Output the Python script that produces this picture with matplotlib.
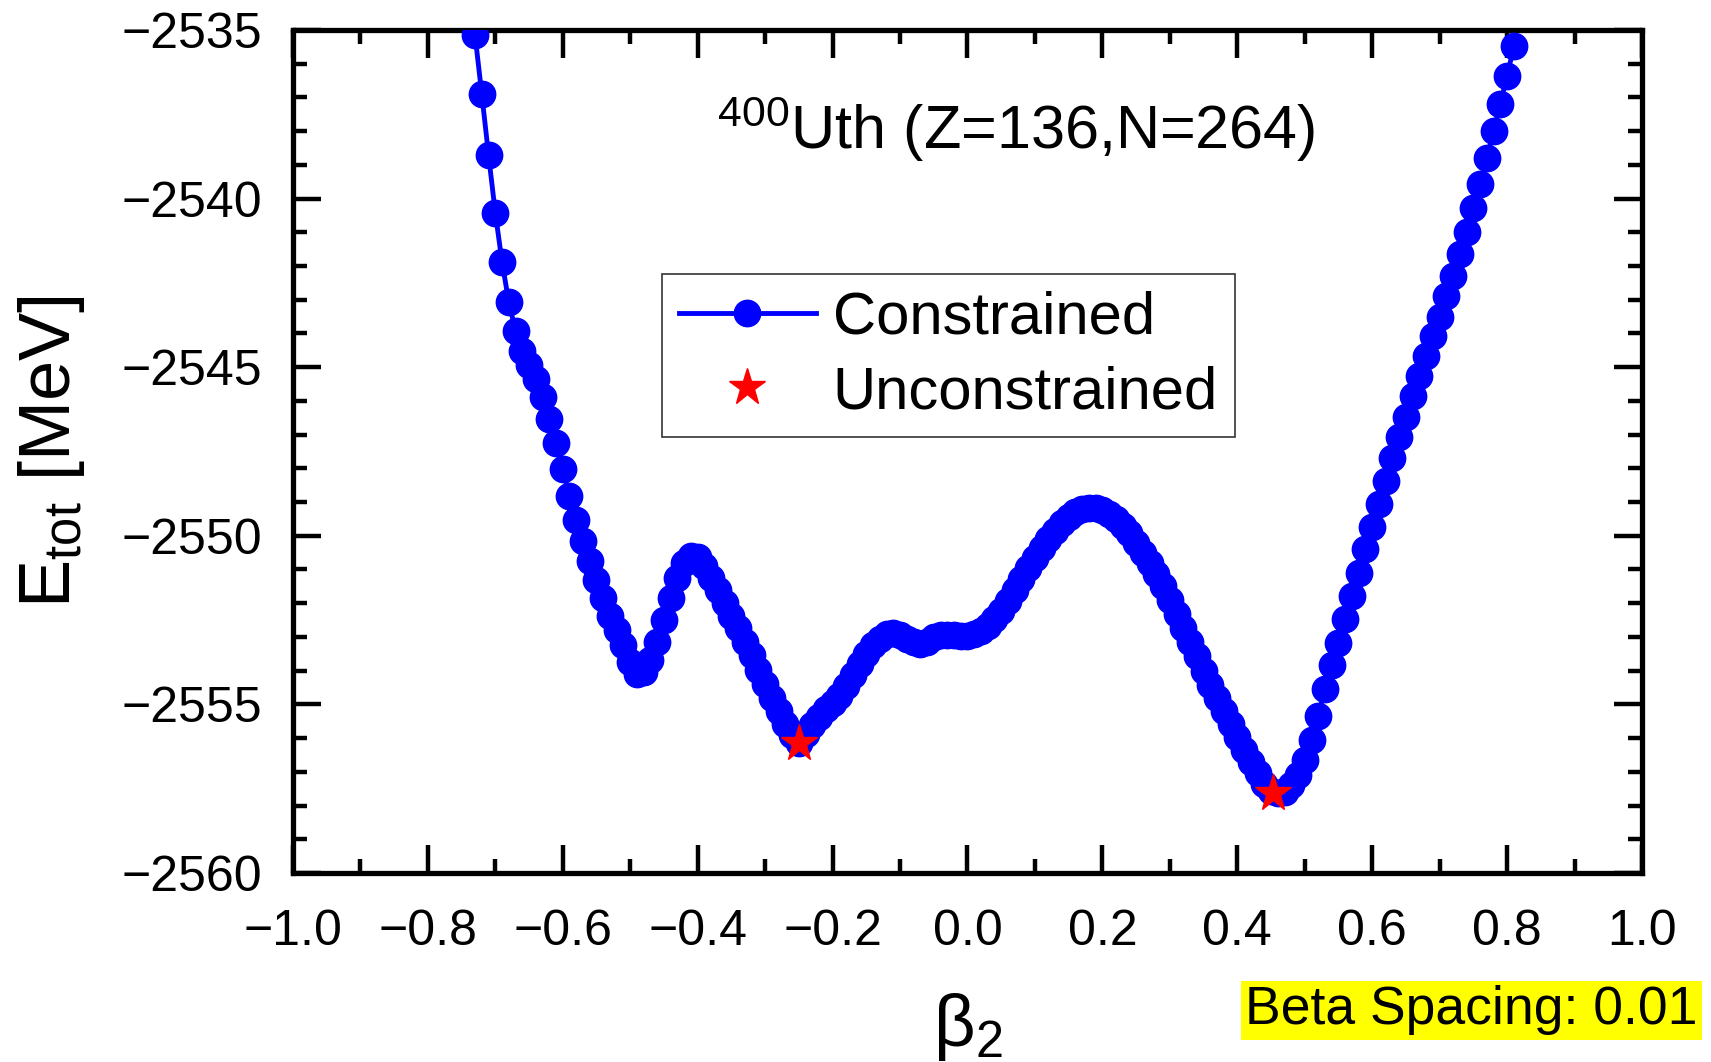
import numpy as np
import matplotlib
matplotlib.use("Agg")
import matplotlib.pyplot as plt
from matplotlib.ticker import MultipleLocator

plt.rcParams["font.family"] = ["Liberation Sans", "DejaVu Sans"]
plt.rcParams["mathtext.fontset"] = "custom"
plt.rcParams["mathtext.rm"] = "Liberation Sans"
plt.rcParams["mathtext.it"] = "Liberation Sans:italic"

# constrained scan, beta2 grid starts at -0.73 with the stated spacing
beta_start = -0.73
beta_step = 0.01
e_constrained = [
    -2535.16, -2536.91, -2538.71, -2540.42, -2541.88, -2543.07, -2543.92, -2544.51,
    -2544.95, -2545.34, -2545.88, -2546.54, -2547.26, -2548.02, -2548.81, -2549.52,
    -2550.15, -2550.74, -2551.31, -2551.85, -2552.37, -2552.78, -2553.24, -2553.75,
    -2554.10, -2554.05, -2553.68, -2553.14, -2552.50, -2551.85, -2551.26, -2550.82,
    -2550.60, -2550.62, -2550.90, -2551.25, -2551.62, -2552.00, -2552.38, -2552.75,
    -2553.15, -2553.55, -2553.98, -2554.40, -2554.80, -2555.20, -2555.58, -2555.92,
    -2556.15, -2555.88, -2555.62, -2555.38, -2555.15, -2554.95, -2554.75, -2554.45,
    -2554.12, -2553.80, -2553.50, -2553.25, -2553.05, -2552.92, -2552.88, -2552.95,
    -2553.05, -2553.15, -2553.22, -2553.15, -2553.00, -2552.93, -2552.93, -2552.95,
    -2552.97, -2552.97, -2552.92, -2552.83, -2552.68, -2552.48, -2552.22, -2551.92,
    -2551.60, -2551.27, -2550.95, -2550.65, -2550.37, -2550.10, -2549.85, -2549.62,
    -2549.43, -2549.29, -2549.21, -2549.18, -2549.19, -2549.25, -2549.36, -2549.50,
    -2549.70, -2549.93, -2550.20, -2550.50, -2550.80, -2551.13, -2551.50, -2551.90,
    -2552.32, -2552.74, -2553.16, -2553.58, -2554.00, -2554.42, -2554.82, -2555.20,
    -2555.58, -2555.96, -2556.35, -2556.72, -2557.05, -2557.35, -2557.58, -2557.64,
    -2557.59, -2557.39, -2557.09, -2556.65, -2556.06, -2555.34, -2554.55, -2553.83,
    -2553.17, -2552.48, -2551.79, -2551.11, -2550.40, -2549.73, -2549.06, -2548.37,
    -2547.70, -2547.06, -2546.47, -2545.87, -2545.26, -2544.67, -2544.07, -2543.50,
    -2542.89, -2542.30, -2541.65, -2540.98, -2540.29, -2539.58, -2538.81, -2538.01,
    -2537.19, -2536.36, -2535.49,
]
beta_constrained = np.round(beta_start + beta_step * np.arange(len(e_constrained)), 2)

# unconstrained minima
beta_free = [-0.25, 0.453]
e_free = [-2556.16, -2557.63]

fig = plt.figure(figsize=(17.11, 10.62), dpi=100)
ax = fig.add_axes([0.1712, 0.178, 0.7885, 0.7938])

ax.plot(beta_constrained, e_constrained, "-o", color="blue", lw=3.5, ms=19,
        label="Constrained", zorder=3)
ax.plot(beta_free, e_free, "*", color="red", ms=28, ls="none",
        label="Unconstrained", zorder=4)

ax.set_xlim(-1.0, 1.0)
ax.set_ylim(-2560, -2535)
ax.xaxis.set_major_locator(MultipleLocator(0.2))
ax.xaxis.set_minor_locator(MultipleLocator(0.1))
ax.yaxis.set_major_locator(MultipleLocator(5))
ax.yaxis.set_minor_locator(MultipleLocator(1))
ax.xaxis.set_major_formatter(plt.FuncFormatter(lambda v, p: f"{v:.1f}".replace("-", "\u2212")))

for s in ax.spines.values():
    s.set_linewidth(3.8)
ax.tick_params(which="both", direction="in", top=True, right=True, width=3.2)
ax.tick_params(which="major", length=20, labelsize=36)
ax.tick_params(which="minor", length=10)
ax.tick_params(axis="x", which="major", pad=26)
ax.tick_params(axis="y", which="major", pad=22)

ax.set_xlabel(r"$\mathrm{\beta_2}$", fontsize=52)
ax.set_ylabel(r"E$_{\mathrm{tot}}$ [MeV]", fontsize=52)
ax.xaxis.set_label_coords(0.5, -0.14)
ax.yaxis.set_label_coords(-0.153, 0.5)

ax.text(0.536, 0.859, r"$^{400}$Uth (Z=136,N=264)", transform=ax.transAxes,
        ha="center", va="baseline", fontsize=44)

leg = ax.legend(loc="upper left", bbox_to_anchor=(0.2735, 0.7106), fontsize=43,
                frameon=True, fancybox=False, framealpha=1, edgecolor="#333333",
                handlelength=2.3, handletextpad=0.28, labelspacing=0.33,
                borderpad=0.28, borderaxespad=0, numpoints=1)
leg.get_frame().set_linewidth(1.2)

fig.text(0.992, 0.025, "Beta Spacing: 0.01", ha="right", va="bottom", fontsize=38.5,
         bbox=dict(boxstyle="square,pad=0.08", facecolor="yellow", edgecolor="none"))

fig.savefig("out.png", dpi=100)
